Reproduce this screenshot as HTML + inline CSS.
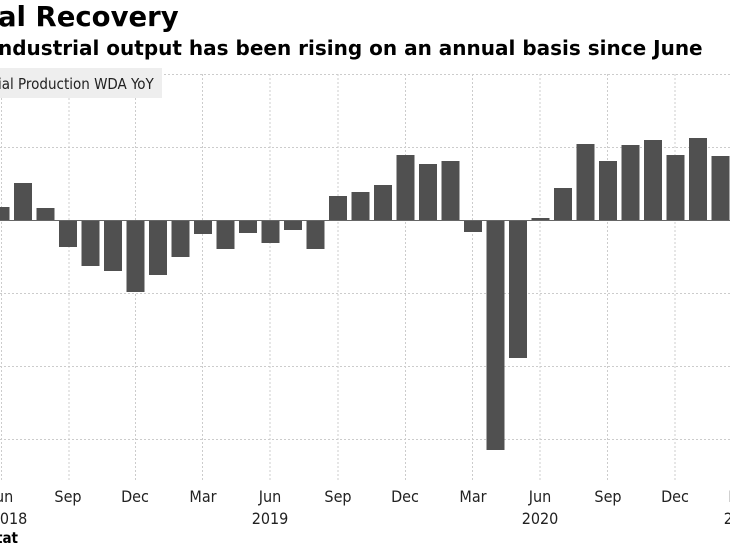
<!DOCTYPE html>
<html><head><style>
body{margin:0;background:#fff;width:730px;height:547px;overflow:hidden;position:relative;font-family:"DejaVu Sans","Liberation Sans",sans-serif}
.t{position:absolute;white-space:nowrap;color:#000}
</style></head><body>
<div class="t" style="left:-2px;top:1px;font-size:27.5px;font-weight:bold">al Recovery</div>
<div class="t" style="left:-2px;top:36px;font-size:20px;font-weight:bold">ndustrial output has been rising on an annual basis since June</div>
<svg width="730" height="547" style="position:absolute;left:0;top:0">
<g stroke="#ccc" stroke-dasharray="2,2" stroke-width="1">
<line x1="0" x2="730" y1="74.5" y2="74.5"/><line x1="0" x2="730" y1="147.5" y2="147.5"/>
<line x1="0" x2="730" y1="293.5" y2="293.5"/><line x1="0" x2="730" y1="366.5" y2="366.5"/><line x1="0" x2="730" y1="439.5" y2="439.5"/>
<line x1="1.5" x2="1.5" y1="74" y2="480"/><line x1="69" x2="69" y1="74" y2="480"/><line x1="135.5" x2="135.5" y1="74" y2="480"/><line x1="202.5" x2="202.5" y1="74" y2="480"/><line x1="270" x2="270" y1="74" y2="480"/><line x1="338" x2="338" y1="74" y2="480"/><line x1="405.5" x2="405.5" y1="74" y2="480"/><line x1="472.5" x2="472.5" y1="74" y2="480"/><line x1="540" x2="540" y1="74" y2="480"/><line x1="607.5" x2="607.5" y1="74" y2="480"/><line x1="675" x2="675" y1="74" y2="480"/>
</g>
<rect x="0" y="68" width="162" height="30" fill="#eeeeee"/>
<text x="-2" y="89" font-size="15" fill="#222" font-family="DejaVu Sans Condensed, DejaVu Sans, sans-serif">ial Production WDA YoY</text>
<g fill="#505050" id="bars"></g>
<line x1="0" x2="730" y1="220.5" y2="220.5" stroke="#666" stroke-width="1"/>
<g font-size="16" fill="#222" text-anchor="middle" font-family="DejaVu Sans Condensed, DejaVu Sans, sans-serif">
<text x="2" y="502">Jun</text><text x="68" y="502">Sep</text><text x="135" y="502">Dec</text><text x="203" y="502">Mar</text><text x="270" y="502">Jun</text><text x="338" y="502">Sep</text><text x="405" y="502">Dec</text><text x="473" y="502">Mar</text><text x="540" y="502">Jun</text><text x="608" y="502">Sep</text><text x="675" y="502">Dec</text><text x="742" y="502">Mar</text>
<text x="9" y="524">2018</text><text x="270" y="524">2019</text><text x="540" y="524">2020</text><text x="742" y="524">2021</text>
</g>
<text x="-4" y="543" font-size="15" font-weight="bold" fill="#000" font-family="DejaVu Sans Condensed, DejaVu Sans, sans-serif">tat</text>
</svg>
<script>
var v=[207,183,208,247,266,271,292,275,257,234,249,233,243,230,249,196,192,185,155,164,161,232,450,358,218,188,144,161,145,140,155,138,156];
var g=document.getElementById('bars'),s='';
v.forEach(function(y,i){var c=0.5+22.5*i,t=Math.min(y,220.5),h=Math.abs(y-220.5);if(i==24){t=218;h=2.5;}
s+='<rect x="'+(c-9)+'" y="'+t+'" width="18" height="'+h+'"/>';});
g.innerHTML=s;
</script>
</body></html>
